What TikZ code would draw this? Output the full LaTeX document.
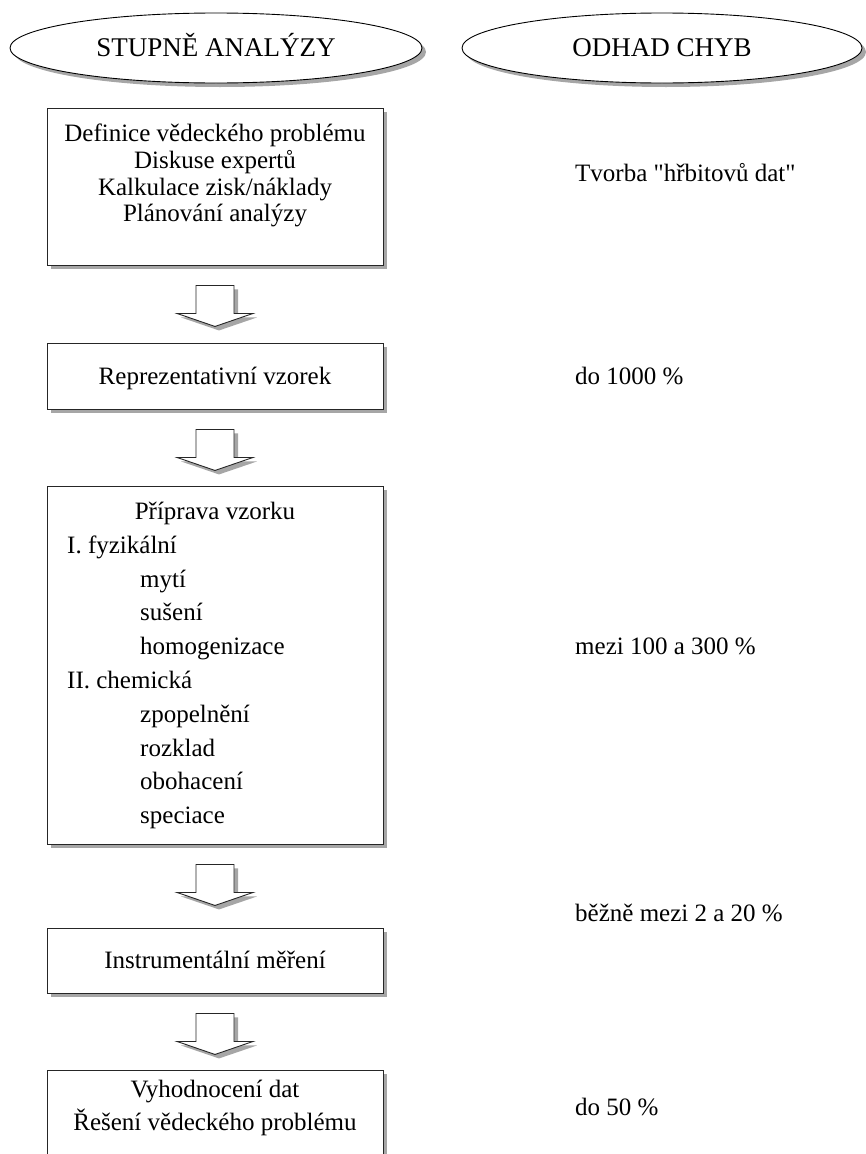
\documentclass[tikz,border=0pt]{standalone}
\usepackage{fontspec}
\setmainfont{Liberation Serif}[Ligatures=TeXOff]
\usetikzlibrary{shapes.geometric,shadows}
\tikzset{
  myshadow/.style={drop shadow={shadow xshift=4pt,shadow yshift=-4pt,fill=black!35,opacity=1}},
  stepbox/.style={rectangle,draw=black!85,line width=.9pt,fill=white,myshadow,inner sep=0pt},
  headoval/.style={ellipse,draw=black,line width=.9pt,fill=white,myshadow,inner sep=0pt,
    font=\fontsize{27}{31}\selectfont,text height=17pt,text depth=0pt},
  downarrow/.style={draw=black!85,line width=.9pt,fill=white,myshadow},
  txt/.style={inner sep=0pt,anchor=base},
  ltxt/.style={inner sep=0pt,anchor=base west}
}
\begin{document}
\begin{tikzpicture}[x=1pt,y=-1pt,font=\fontsize{25}{29}\selectfont]
\useasboundingbox (0,0) rectangle (865,1154);
\node[headoval,minimum width=412pt,minimum height=70pt] (stages) at (216,48) {STUPNĚ ANALÝZY};
\node[headoval,minimum width=400pt,minimum height=70pt] (errors) at (662,48) {ODHAD CHYB};
% boxes
\node[stepbox,minimum width=336pt,minimum height=157pt] (def) at (215,186.5) {};
\node[stepbox,minimum width=336pt,minimum height=66pt] (rep) at (215,376) {};
\node[stepbox,minimum width=336pt,minimum height=358pt] (prep) at (215,665) {};
\node[stepbox,minimum width=336pt,minimum height=65pt] (meas) at (215,960.5) {};
\node[stepbox,minimum width=336pt,minimum height=120pt] (eval) at (215,1130) {};
% block arrows
\foreach \a in {def,rep,prep,meas}
  \draw[downarrow] ([yshift=-20pt]\a.south) +(-19,0) -- +(19,0) -- +(19,28) -- +(38,28)
     -- +(0,41) -- +(-38,28) -- +(-19,28) -- cycle;
% texts in boxes
\node[txt] (d1) at (215,141) {Definice vědeckého problému};
\node[txt] (d2) at (215,168) {Diskuse expertů};
\node[txt] (d3) at (215,195) {Kalkulace zisk/náklady};
\node[txt] (d4) at (215,221) {Plánování analýzy};
\node[txt] (r1) at (215,384) {Reprezentativní vzorek};
\node[txt] (p0) at (215,519) {Příprava vzorku};
\node[ltxt] (p1) at (67,553) {I. fyzikální};
\node[ltxt] (p2) at (140,587) {mytí};
\node[ltxt] (p3) at (140,620) {sušení};
\node[ltxt] (p4) at (140,654) {homogenizace};
\node[ltxt] (p5) at (67,688) {II. chemická};
\node[ltxt] (p6) at (140,722) {zpopelnění};
\node[ltxt] (p7) at (140,756) {rozklad};
\node[ltxt] (p8) at (140,789) {obohacení};
\node[ltxt] (p9) at (140,823) {speciace};
\node[txt] (m1) at (215,968) {Instrumentální měření};
\node[txt] (e1) at (215,1097) {Vyhodnocení dat};
\node[txt] (e2) at (215,1130) {Řešení vědeckého problému};
% error estimates
\node[ltxt] (o1) at (575,181) {Tvorba "hřbitovů dat"};
\node[ltxt] (o2) at (575,384) {do 1000 \%};
\node[ltxt] (o3) at (575,654) {mezi 100 a 300 \%};
\node[ltxt] (o4) at (575,921) {běžně mezi 2 a 20 \%};
\node[ltxt] (o5) at (575,1115) {do 50 \%};
\end{tikzpicture}
\end{document}
